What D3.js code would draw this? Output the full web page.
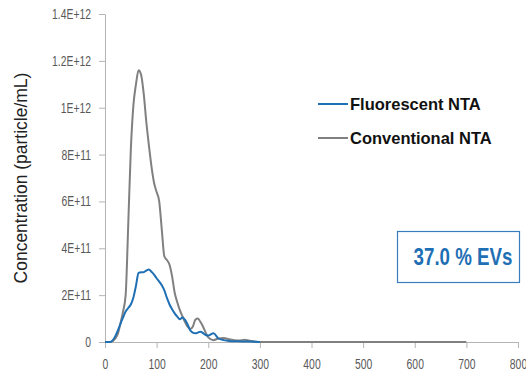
<!DOCTYPE html>
<html>
<head>
<meta charset="utf-8">
<script src="https://cdn.jsdelivr.net/npm/d3@7"></script>
<style>
  body { margin: 0; background: #fff; }
  svg text { font-family: "Liberation Sans", Arial, sans-serif; }
</style>
</head>
<body>
<svg class="chart" width="526" height="377"></svg>
<script>
// particle size (nm) and concentration in units of 1e11 particles/mL
var sizes = [0, 10, 20, 25, 30, 35, 40, 45, 50, 55, 60, 65, 70, 75, 80, 85, 90, 95, 100, 105, 110, 115, 120, 125, 130, 135, 140, 145, 150, 155, 160, 165, 170, 175, 180, 185, 190, 195, 200, 210, 220, 230, 240, 250, 260, 270, 280, 290, 300, 400, 500, 600, 700];
var conventional = [0, 0, 0.15, 0.35, 0.8, 1.3, 2.0, 5.0, 8.2, 10.1, 11.0, 11.6, 11.4, 10.6, 9.4, 8.4, 7.5, 6.8, 6.4, 6.0, 4.8, 3.65, 3.5, 3.3, 2.8, 2.1, 1.7, 1.36, 1.1, 0.85, 0.65, 0.55, 0.65, 0.95, 1.0, 0.85, 0.65, 0.4, 0.2, 0.08, 0.15, 0.17, 0.12, 0.08, 0.06, 0.1, 0.05, 0.02, 0, 0, 0, 0, 0];
var fluorescent = [0, 0, 0.25, 0.5, 0.78, 1.05, 1.3, 1.45, 1.6, 1.9, 2.4, 2.95, 2.98, 2.98, 3.05, 3.09, 3.0, 2.88, 2.72, 2.58, 2.42, 2.2, 1.88, 1.6, 1.4, 1.22, 1.08, 0.97, 1.05, 0.95, 0.75, 0.5, 0.4, 0.37, 0.4, 0.44, 0.38, 0.3, 0.28, 0.37, 0.15, 0.08, 0.04, 0.03, 0.03, 0.02, 0.02, 0.01, 0];
var yTicks = [0, 2e11, 4e11, 6e11, 8e11, 1e12, 1.2e12, 1.4e12];
var yTickLabels = ["0", "2E+11", "4E+11", "6E+11", "8E+11", "1E+12", "1.2E+12", "1.4E+12"];
var xTicks = [0, 100, 200, 300, 400, 500, 600, 700, 800];
var seriesNames = ["Fluorescent NTA", "Conventional NTA"];
var evLabel = "37.0 % EVs";

// squeeze a text horizontally, the reference uses a condensed face
function condense(sel, factor){
  sel.each(function(){
    var w = this.getComputedTextLength();
    d3.select(this)
      .attr("textLength", w * factor)
      .attr("lengthAdjust", "spacingAndGlyphs");
  });
}

function drawChart(){
  var svg = d3.select("svg.chart");
  var left = 105, right = 518, top = 14, bottom = 342;

  var blue = "#1f6fb4",
      grey = "#808080",
      axisGrey = "#b4b4b4",
      textGrey = "#595959";

  var x = d3.scaleLinear().domain([0, 800]).range([left, right]);
  var y = d3.scaleLinear().domain([0, 1.4e12]).range([bottom, top]);

  // axes
  svg.append("g")
      .attr("transform", "translate(0," + bottom + ")")
      .call(d3.axisBottom(x).tickValues(xTicks).tickSize(6).tickPadding(11).tickSizeOuter(0));
  svg.append("g")
      .attr("transform", "translate(" + left + ",0)")
      .call(d3.axisLeft(y).tickValues(yTicks).tickSize(6).tickPadding(8).tickSizeOuter(0)
        .tickFormat(function(d, i){ return yTickLabels[i]; }));

  svg.selectAll(".domain, .tick line").attr("stroke", axisGrey);
  svg.selectAll(".tick text")
      .attr("fill", textGrey)
      .attr("font-size", 14)
      .style("font-family", "\"Liberation Sans\", Arial, sans-serif")
      .call(condense, 0.74);

  svg.append("text")
      .attr("transform", "translate(27," + ((top + bottom) / 2) + ") rotate(-90)")
      .attr("text-anchor", "middle")
      .attr("font-size", 19)
      .attr("fill", "#222")
      .text("Concentration (particle/mL)")
      .call(condense, 0.92);

  var line = d3.line()
      .x(function(d){ return x(d[0]); })
      .y(function(d){ return y(d[1] * 1e11); })
      .curve(d3.curveMonotoneX);

  var convData = sizes.map(function(s, i){ return [s, conventional[i]]; });
  var fluoData = fluorescent.map(function(v, i){ return [sizes[i], v]; });

  svg.append("path")
      .datum(convData)
      .attr("d", line)
      .attr("fill", "none")
      .attr("stroke", grey)
      .attr("stroke-width", 2);

  svg.append("path")
      .datum(fluoData)
      .attr("d", line)
      .attr("fill", "none")
      .attr("stroke", blue)
      .attr("stroke-width", 2);

  // legend
  var legend = svg.selectAll(".legend")
      .data(seriesNames)
      .enter().append("g")
      .attr("class", "legend")
      .attr("transform", function(d, i){ return "translate(318," + (104 + i * 34) + ")"; });
  legend.append("line")
      .attr("x1", 0).attr("x2", 30)
      .attr("stroke", function(d, i){ return i == 0 ? blue : grey; })
      .attr("stroke-width", 2);
  legend.append("text")
      .attr("x", 32)
      .attr("y", 6)
      .attr("font-size", 17)
      .attr("font-weight", "bold")
      .attr("fill", "#111")
      .text(function(d){ return d; })
      .call(condense, 0.97);

  // EV box
  svg.append("rect")
      .attr("x", 397.5).attr("y", 231.5)
      .attr("width", 122).attr("height", 51)
      .attr("fill", "#fff")
      .attr("stroke", "#3a7dbf")
      .attr("stroke-width", 1.2);
  svg.append("text")
      .attr("x", 463)
      .attr("y", 265)
      .attr("text-anchor", "middle")
      .attr("font-size", 24)
      .attr("font-weight", "bold")
      .attr("fill", blue)
      .text(evLabel)
      .call(condense, 0.78);
}

drawChart();
</script>
</body>
</html>
